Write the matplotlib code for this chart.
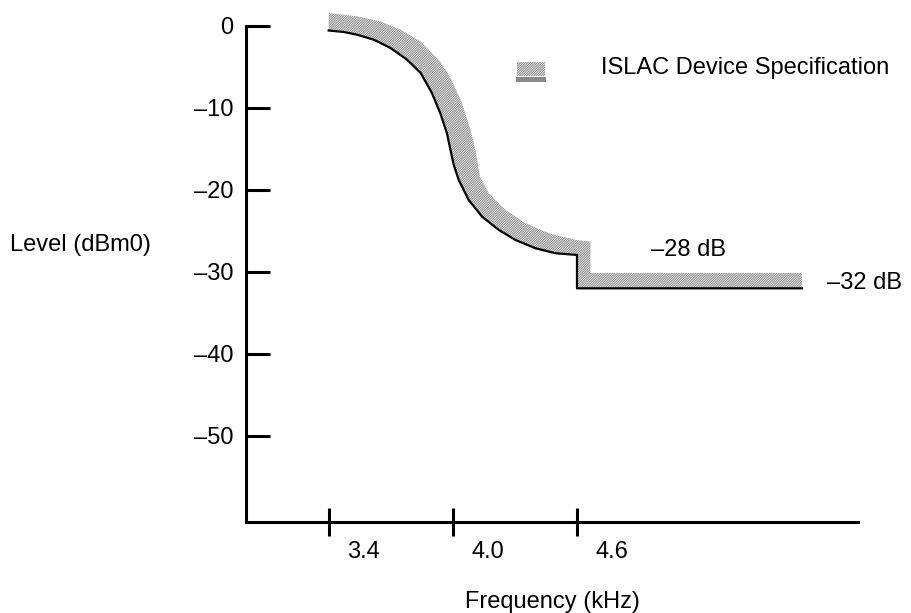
import numpy as np
import matplotlib
matplotlib.use("Agg")
import matplotlib.pyplot as plt
from matplotlib.patches import Polygon, Rectangle

plt.rcParams['font.family'] = ['Liberation Sans', 'DejaVu Sans']
plt.rcParams['hatch.linewidth'] = 0.7

# measured device response (kHz, dBm0)
resp_freq = [3.400, 3.473, 3.537, 3.618, 3.699, 3.779, 3.845, 3.900, 3.940, 3.972,
             3.989, 4.005, 4.029, 4.077, 4.142, 4.223, 4.303, 4.400, 4.497, 4.601,
             4.601, 5.689]
resp_level = [-0.55, -0.73, -1.06, -1.67, -2.68, -4.11, -5.73, -8.21, -10.65, -13.09,
              -15.12, -16.95, -18.78, -21.22, -23.26, -24.88, -26.10, -27.11, -27.72, -27.93,
              -32.0, -32.0]

# upper edge of the ISLAC specification mask
spec_freq = [3.400, 3.400, 3.537, 3.650, 3.747, 3.844, 3.940, 3.995, 4.045, 4.086,
             4.110, 4.131, 4.174, 4.255, 4.352, 4.465, 4.594, 4.666, 4.666, 5.689]
spec_level = [-0.55, 1.59, 1.18, 0.57, -0.45, -1.87, -4.35, -6.59, -9.43, -12.68,
              -15.12, -18.29, -20.40, -22.44, -24.06, -25.28, -26.10, -26.30, -30.12, -30.12]

x_ticks = [3.4, 4.0, 4.6]
x_tick_labels = ['3.4', '4.0', '4.6']
y_ticks = [0, -10, -20, -30, -40, -50]
y_tick_labels = ['0', '–10', '–20', '–30', '–40', '–50']

fig = plt.figure(figsize=(9.11, 6.13), dpi=100)
ax = fig.add_axes([0.270, 0.1485, 0.6718, 0.8091])
ax.set_xlim(3.0, 5.96)
ax.set_ylim(-60.5, 0)

band_face = '#f2f2f2'
band_hatch = '#8c8c8c'

# hatched mask band between spec edge and response
pts = list(zip(spec_freq, spec_level)) + list(zip(resp_freq[::-1], resp_level[::-1]))
band = Polygon(pts, closed=True, facecolor=band_face, edgecolor=band_hatch,
               hatch='/' * 14, linewidth=0, clip_on=False, zorder=2)
ax.add_patch(band)

ax.plot(resp_freq, resp_level, color='black', lw=1.6, clip_on=False, zorder=3,
        solid_joinstyle='round')

for s in ['top', 'right']:
    ax.spines[s].set_visible(False)
for s in ['left', 'bottom']:
    ax.spines[s].set_linewidth(2.2)

ax.set_yticks(y_ticks)
ax.set_yticklabels(y_tick_labels, fontsize=17)
ax.tick_params(axis='y', direction='in', length=17, width=2.2, pad=9)
ax.set_xticks(x_ticks)
ax.set_xticklabels([])
ax.tick_params(axis='x', direction='inout', length=20, width=2.2)

for t, lab in zip(x_ticks, x_tick_labels):
    ax.annotate(lab, xy=(t, 0), xycoords=('data', 'axes fraction'),
                xytext=(13.5, -14), textcoords='offset points',
                ha='left', va='top', fontsize=17)

ax.set_xlabel('Frequency (kHz)', fontsize=17, labelpad=36)
fig.text(10 / 911, 1 - 245 / 613, 'Level (dBm0)', fontsize=17, ha='left', va='center')

ax.text(4.96, -27.3, '–28 dB', fontsize=17, ha='left', va='center')
ax.text(5.81, -31.3, '–32 dB', fontsize=17, ha='left', va='center', clip_on=False)

# legend drawn by hand
fig.patches.append(Rectangle((517 / 911, 1 - 76 / 613), 28 / 911, 14 / 613,
                             transform=fig.transFigure, facecolor=band_face,
                             edgecolor=band_hatch, hatch='/' * 14, linewidth=0))
fig.patches.append(Rectangle((516 / 911, 1 - 82 / 613), 30 / 911, 5 / 613,
                             transform=fig.transFigure, facecolor='#8a8a8a',
                             linewidth=0))
fig.text(601 / 911, 1 - 68 / 613, 'ISLAC Device Specification', fontsize=17,
         ha='left', va='center')

fig.savefig('out.png', dpi=100)
